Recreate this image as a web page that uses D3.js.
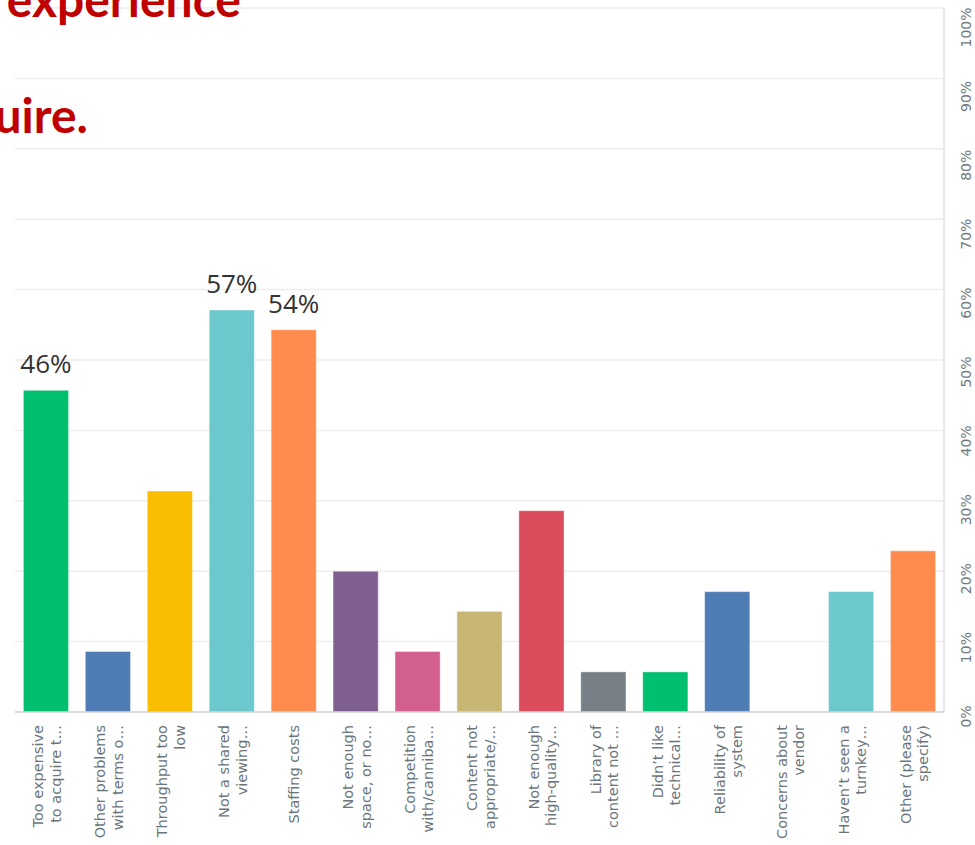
<!DOCTYPE html>
<html>
<head>
<meta charset="utf-8">
<script src="https://cdn.jsdelivr.net/npm/d3@7"></script>
<style>
  html, body { margin: 0; padding: 0; background: #fff; }
  #chart { width: 975px; height: 845px; overflow: hidden; }
</style>
</head>
<body>
<div id="chart"></div>
<script>
// answer choices (already cut short the way the survey tool shows them)
const categories = [
  'Too expensive\nto acquire t…',
  'Other problems\nwith terms o…',
  'Throughput too\nlow',
  'Not a shared\nviewing…',
  'Staffing costs',
  'Not enough\nspace, or no…',
  'Competition\nwith/canniba…',
  'Content not\nappropriate/…',
  'Not enough\nhigh-quality…',
  'Library of\ncontent not …',
  'Didn’t like\ntechnical…',
  'Reliability of\nsystem',
  'Concerns about\nvendor',
  'Haven’t seen a\nturnkey…',
  'Other (please\nspecify)'
];

// percent of respondents
const values = [45.7, 8.6, 31.4, 57.1, 54.3, 20.0, 8.6, 14.3, 28.6, 5.7, 5.7, 17.1, 0, 17.1, 22.9];

// only these bars carry a value label
const labelled = ['46%', null, null, '57%', '54%', null, null, null, null, null, null, null, null, null, null];

const yTicks = [0, 10, 20, 30, 40, 50, 60, 70, 80, 90, 100];

const palette = ['#00bf6f', '#507cb6', '#f9be00', '#6bc8cd', '#ff8b4f',
                 '#7f5f90', '#d25f90', '#c8b675', '#db4d5c', '#768086'];

const titleLines = [
  { text: 'experience', x: 241, y: 17 },
  { text: 'acquire.', x: 88, y: 133 }
];

const width = 975;
const height = 845;
const plot = { left: 15, right: 944, top: 8, bottom: 712 };

const svg = d3.select('#chart')
  .append('svg')
    .attr('width', width)
    .attr('height', height)
    .attr('viewBox', `0 0 ${width} ${height}`);

const x = d3.scaleBand()
  .domain(d3.range(categories.length))
  .range([plot.left, plot.right])
  .paddingInner(0.27)
  .paddingOuter(0.135);

const y = d3.scaleLinear()
  .domain([0, 100])
  .range([plot.bottom, plot.top]);

// the tick labels sit slightly tighter than the grid in the original
const yLabel = d3.scaleLinear()
  .domain([0, 100])
  .range([plot.bottom + 4, plot.top + 19]);

const color = i => palette[i % palette.length];

// grid
svg.append('g')
  .selectAll('line')
  .data(yTicks.filter(t => t > 0))
  .join('line')
    .attr('x1', plot.left)
    .attr('x2', plot.right)
    .attr('y1', d => y(d))
    .attr('y2', d => y(d))
    .attr('stroke', '#ededed')
    .attr('stroke-width', 1.5);

svg.append('line')
  .attr('x1', plot.right)
  .attr('x2', plot.right)
  .attr('y1', plot.top)
  .attr('y2', plot.bottom)
  .attr('stroke', '#e2e2e2')
  .attr('stroke-width', 1.5);

// percent axis on the right, labels turned to read upwards
const yAxis = svg.append('g')
  .attr('transform', `translate(${plot.right}, 0)`)
  .call(d3.axisRight(yLabel).tickValues(yTicks).tickFormat(d => d + '%').tickSize(0));

yAxis.select('.domain').remove();
yAxis.selectAll('text')
  .attr('x', 0)
  .attr('y', 0)
  .attr('dy', null)
  .attr('transform', 'translate(22, 0) rotate(-90)')
  .attr('text-anchor', 'middle')
  .attr('dominant-baseline', 'central')
  .attr('fill', '#6f7a80')
  .style('font-family', '"DejaVu Sans", sans-serif')
  .style('font-size', '14px');

// bars
svg.append('g')
  .selectAll('rect')
  .data(values)
  .join('rect')
    .attr('x', (d, i) => x(i))
    .attr('width', x.bandwidth())
    .attr('y', d => y(d))
    .attr('height', d => y(0) - y(d))
    .attr('fill', (d, i) => color(i))
    .attr('stroke', 'rgba(255,255,255,0.45)')
    .attr('stroke-width', 1);

// baseline
svg.append('line')
  .attr('x1', plot.left)
  .attr('x2', plot.right)
  .attr('y1', plot.bottom)
  .attr('y2', plot.bottom)
  .attr('stroke', '#cfcfcf')
  .attr('stroke-width', 1.5);

// value labels
svg.append('g')
  .selectAll('text')
  .data(values.map((v, i) => ({ v, i, label: labelled[i] })).filter(d => d.label))
  .join('text')
    .attr('x', d => x(d.i) + x.bandwidth() / 2)
    .attr('y', d => y(d.v) - 17)
    .attr('text-anchor', 'middle')
    .attr('fill', '#333')
    .style('font-family', '"Open Sans", sans-serif')
    .style('font-size', '26px')
    .text(d => d.label);

// category labels, rotated, right-aligned against the axis
const catLabels = svg.append('g')
  .selectAll('text')
  .data(categories)
  .join('text')
    .attr('transform', (d, i) => `translate(${x(i) + x.bandwidth() / 2}, 725) rotate(-90)`)
    .attr('text-anchor', 'end')
    .attr('fill', '#6b767c')
    .style('font-family', '"DejaVu Sans", sans-serif')
    .style('font-size', '14.5px');

catLabels.each(function(d) {
  const lines = d.split('\n');
  const start = lines.length === 1 ? 5 : -2.5;
  d3.select(this)
    .selectAll('tspan')
    .data(lines)
    .join('tspan')
      .attr('x', 0)
      .attr('y', (l, j) => start + j * 17.5)
      .text(l => l);
});

// slide title, mostly cropped away
svg.append('g')
  .selectAll('text')
  .data(titleLines)
  .join('text')
    .attr('x', d => d.x)
    .attr('y', d => d.y)
    .attr('text-anchor', 'end')
    .attr('fill', '#c00000')
    .style('font-family', 'Lato, sans-serif')
    .style('font-weight', 'bold')
    .style('font-size', '48px')
    .text(d => d.text);
</script>
</body>
</html>
